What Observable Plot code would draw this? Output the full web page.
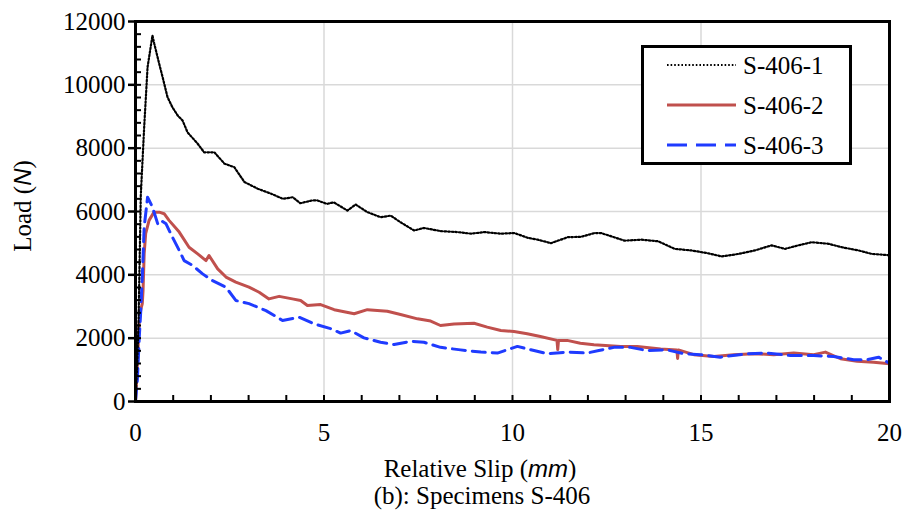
<!DOCTYPE html>
<html><head><meta charset="utf-8">
<style>
html,body{margin:0;background:#fff;}
*{font-family:'Liberation Serif' !important;}
#wrap{position:relative;width:904px;height:515px;color:#000;overflow:hidden;}
.lab{position:absolute;font-size:25px;white-space:nowrap;line-height:0.95;}
#wrap .it{font-family:'Liberation Sans' !important;font-style:italic;font-size:24px;}
#legend{position:absolute;left:641px;top:45px;width:205px;height:114px;border:3px solid #000;background:#fff;}
</style>
<script src="https://cdn.jsdelivr.net/npm/d3@7"></script>
<script src="https://cdn.jsdelivr.net/npm/@observablehq/plot@0.6"></script>
</head>
<body>
<div id="wrap">
  <div id="chart"></div>
  <div class="lab" id="ylab" style="left:23px;top:206px;transform:translate(-50%,-50%) rotate(-90deg);">Load (<span class="it">N</span>)</div>
  <div class="lab" style="left:480px;top:469px;transform:translate(-50%,-50%);">Relative Slip (<span class="it">mm</span>)</div>
  <div class="lab" style="left:482px;top:496px;transform:translate(-50%,-50%);">(b): Specimens S-406</div>
  <div id="legend"></div>
</div>
<script>
// ---- data ----
const seriesNames = ["S-406-1", "S-406-2", "S-406-3"];
const xTicks = [0, 5, 10, 15, 20];
const yTicks = [0, 2000, 4000, 6000, 8000, 10000, 12000];

const slip1 = [0,0.04,0.08,0.11,0.14,0.23,0.32,0.45,0.50,0.63,0.72,0.85,0.98,1.12,1.25,1.38,1.65,1.82,2.09,2.36,2.62,2.89,3.24,3.60,3.91,4.17,4.37,4.69,4.82,5.08,5.26,5.62,5.84,6.15,6.50,6.77,7.03,7.39,7.65,8.10,8.54,8.90,9.25,9.69,10.05,10.40,10.67,11.02,11.47,11.82,12.18,12.35,12.97,13.42,13.86,14.30,14.75,15.19,15.55,15.99,16.43,16.87,17.23,17.58,17.94,18.38,18.74,19.18,19.53,20];
const load1 = [0,1000,2500,4500,6500,8660,10560,11560,11290,10660,10240,9610,9290,9030,8870,8500,8140,7870,7870,7510,7400,6930,6720,6560,6400,6450,6260,6350,6350,6240,6290,6030,6220,5980,5820,5870,5660,5400,5480,5380,5350,5300,5350,5300,5320,5170,5110,5000,5190,5200,5320,5320,5080,5110,5060,4820,4770,4680,4580,4660,4770,4930,4820,4930,5030,4980,4870,4770,4660,4620];

const slip2 = [0,0.03,0.06,0.08,0.10,0.14,0.18,0.20,0.23,0.27,0.36,0.49,0.63,0.76,0.89,1.16,1.42,1.65,1.87,1.95,2.18,2.40,2.66,3.01,3.28,3.54,3.81,4.16,4.38,4.56,4.91,5.27,5.80,6.15,6.68,7.03,7.48,7.83,8.09,8.45,8.98,9.33,9.69,10.04,10.39,10.74,11.18,11.20,11.22,11.45,11.80,12.16,12.87,13.31,13.93,14.36,14.38,14.40,14.81,15.34,15.87,16.40,16.93,17.46,17.99,18.30,18.70,19.14,19.58,20];
const load2 = [0,700,1500,2000,2560,2900,3090,3500,4670,5300,5720,5980,5980,5930,5720,5350,4870,4660,4450,4610,4190,3930,3770,3610,3450,3240,3320,3240,3190,3030,3060,2900,2770,2900,2850,2750,2610,2540,2400,2450,2470,2350,2240,2210,2140,2050,1930,1640,1930,1930,1840,1790,1740,1740,1660,1630,1360,1630,1480,1420,1480,1510,1480,1530,1480,1560,1350,1270,1240,1190];

const slip3 = [0,0.05,0.10,0.14,0.19,0.23,0.32,0.45,0.59,0.67,0.81,0.98,1.16,1.29,1.51,1.78,2.04,2.40,2.66,3.01,3.46,3.90,4.34,4.74,5.18,5.44,5.71,6.06,6.50,6.86,7.30,7.65,8.09,8.62,9.16,9.60,10.13,10.57,10.92,11.45,11.98,12.29,12.69,13.13,13.57,14.10,14.54,14.98,15.51,16.22,16.75,17.37,17.99,18.52,19.05,19.40,19.71,20];
const load3 = [0,700,2030,2870,4240,5500,6450,6140,5610,5720,5610,5190,4770,4450,4300,4030,3820,3610,3190,3090,2870,2560,2660,2450,2300,2160,2240,2010,1870,1800,1900,1870,1710,1630,1560,1530,1740,1610,1510,1560,1530,1610,1710,1710,1610,1630,1510,1480,1400,1510,1530,1450,1450,1420,1320,1320,1400,1210];

// ---- build tables ----
const rows = (xs, ys, name) => xs.map((x, i) => ({slip: x, load: ys[i], name}));
const d1 = rows(slip1, load1, seriesNames[0]);
const d2 = rows(slip2, load2, seriesNames[1]);
const d3s = rows(slip3, load3, seriesNames[2]);

const W = 904, H = 450, mL = 135, mR = 15, mT = 21, mB = 49;
const innerW = W - mL - mR, innerH = H - mT - mB;
const minorY = d3.range(0, 12001, 400);
const minorX = d3.range(0, 21, 1);
const serif = "Liberation Serif";

const colors = {"S-406-1": "#000000", "S-406-2": "#C0504D", "S-406-3": "#1F3BFF"};
const dashes = {"S-406-1": "1.6,2", "S-406-2": null, "S-406-3": "13,7"};
const widths = {"S-406-1": 2.2, "S-406-2": 3, "S-406-3": 3};

const chart = Plot.plot({
  width: W, height: H,
  marginLeft: mL, marginRight: mR, marginTop: mT, marginBottom: mB,
  style: {background: "#fff", color: "#000", fontFamily: serif},
  x: {domain: [0, 20]},
  y: {domain: [0, 12000]},
  marks: [
    Plot.gridX(xTicks.slice(1), {stroke: "#d9d9d9", strokeOpacity: 1, strokeWidth: 1.5}),
    Plot.gridY(yTicks.slice(1), {stroke: "#d9d9d9", strokeOpacity: 1, strokeWidth: 1.5}),
    Plot.line(d2, {x: "slip", y: "load", stroke: colors["S-406-2"], strokeWidth: widths["S-406-2"]}),
    Plot.line(d3s, {x: "slip", y: "load", stroke: colors["S-406-3"], strokeWidth: widths["S-406-3"], strokeDasharray: dashes["S-406-3"]}),
    Plot.line(d1, {x: "slip", y: "load", stroke: colors["S-406-1"], strokeWidth: widths["S-406-1"], strokeDasharray: dashes["S-406-1"]}),
    Plot.tickY(minorY, {y: d => d, insetRight: innerW - 6, stroke: "#000", strokeWidth: 2}),
    Plot.tickX(minorX, {x: d => d, insetTop: innerH - 6, stroke: "#000", strokeWidth: 2}),
    Plot.frame({stroke: "#000", strokeWidth: 3}),
    Plot.axisY(yTicks, {tickSize: 7, tickPadding: 3, strokeWidth: 2.5, label: null, fontSize: 25, tickFormat: d => String(d)}),
    Plot.axisX(xTicks, {tickSize: 0, tickPadding: 22, label: null, fontSize: 25, tickFormat: d => String(d)})
  ]
});
document.getElementById("chart").appendChild(chart);
chart.querySelectorAll("text").forEach(t => t.style.setProperty("font-family", "'Liberation Serif'", "important"));

// ---- legend ----
const leg = d3.select("#legend").append("svg").attr("width", 205).attr("height", 114)
  .style("position", "absolute").style("left", 0).style("top", 0);
seriesNames.forEach((n, i) => {
  const y = 17 + i * 40;
  leg.append("line").attr("x1", 23).attr("x2", 92).attr("y1", y).attr("y2", y)
    .attr("stroke", colors[n]).attr("stroke-width", widths[n])
    .attr("stroke-dasharray", n === "S-406-3" ? "20,9" : dashes[n]);
  leg.append("text").attr("x", 99).attr("y", y).attr("dy", "0.35em")
    .attr("font-size", 25)
    .text(n);
});
</script>
</body></html>
